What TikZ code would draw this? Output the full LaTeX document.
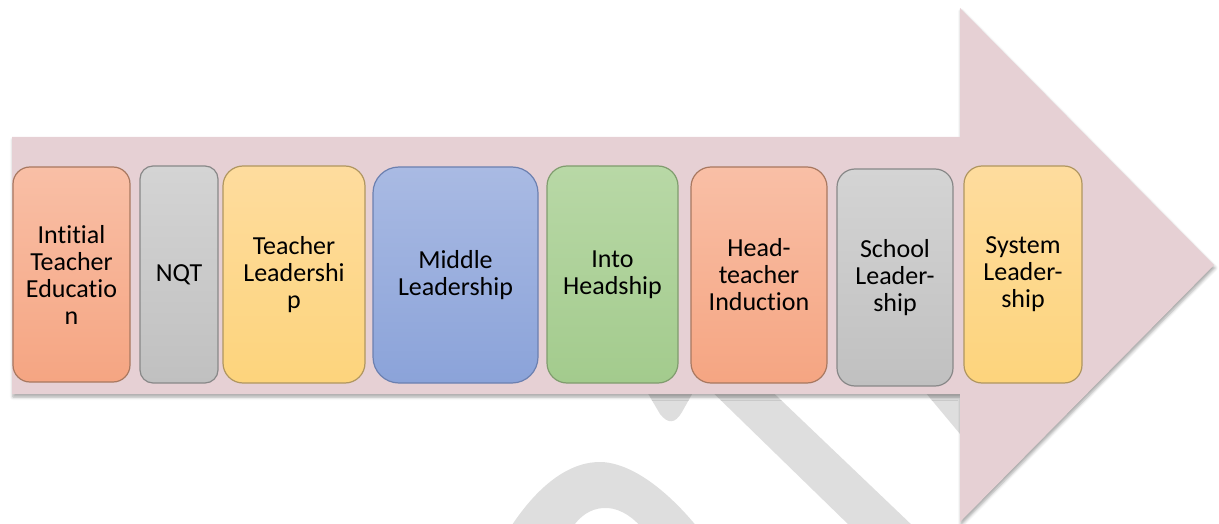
\documentclass[tikz,border=0pt]{standalone}
\usepackage{fontspec}
\setmainfont{Carlito}[Ligatures={NoCommon}]
\usetikzlibrary{shadows.blur}
\definecolor{arrowfill}{HTML}{E6D0D4}
\definecolor{wmgray}{HTML}{DEDEDE}
\definecolor{salT}{HTML}{F9BFA6}\definecolor{salB}{HTML}{F5A582}\definecolor{salD}{HTML}{A87860}
\definecolor{gryT}{HTML}{D4D4D4}\definecolor{gryB}{HTML}{C0C0C0}\definecolor{gryD}{HTML}{888888}
\definecolor{ylwT}{HTML}{FEDC9E}\definecolor{ylwB}{HTML}{FDD47C}\definecolor{ylwD}{HTML}{B09660}
\definecolor{bluT}{HTML}{A9BAE3}\definecolor{bluB}{HTML}{8BA3D9}\definecolor{bluD}{HTML}{6C80B0}
\definecolor{grnT}{HTML}{B8D8A6}\definecolor{grnB}{HTML}{A3CB8D}\definecolor{grnD}{HTML}{809C6E}
\begin{document}
\begin{tikzpicture}[x=1pt,y=-1pt,
  stage/.style={draw, line width=1.2pt, align=center, inner sep=0pt, text=black,
    font=\fontsize{26}{27}\selectfont},
  salbox/.style={top color=salT, bottom color=salB, draw=salD},
  grybox/.style={top color=gryT, bottom color=gryB, draw=gryD},
  ylwbox/.style={top color=ylwT, bottom color=ylwB, draw=ylwD},
  blubox/.style={top color=bluT, bottom color=bluB, draw=bluD},
  grnbox/.style={top color=grnT, bottom color=grnB, draw=grnD},
  wm/.style={fill=wmgray}
]
\useasboundingbox (0,0) rectangle (1219,524);
% watermark fragments (behind the arrow)
\fill[wm] (700,380) -- (760,380) -- (915,528) -- (852,528) -- cycle;
\fill[wm] (640,380) -- (700,380) -- (682,412) .. controls (675,424) and (668,424) .. (660,414) -- cycle;
\fill[wm] (915,380) -- (965,380) -- (965,440) -- cycle;
\fill[wm] (510,528) .. controls (540,482) and (572,461) .. (602,462)
  .. controls (636,464) and (672,496) .. (698,528) -- (642,528)
  .. controls (630,514) and (616,507) .. (603,508)
  .. controls (590,509) and (580,516) .. (572,528) -- cycle;
% big arrow
\fill[arrowfill, blur shadow={shadow xshift=1pt, shadow yshift=-3pt, shadow blur radius=3pt, shadow opacity=35}]
  (12,137) -- (960,137) -- (960,8) -- (1214,265) -- (960,522) -- (960,394) -- (12,394) -- cycle;
% stages
\node[stage, salbox, minimum width=117pt, minimum height=215pt, rounded corners=17pt] (ite) at (71.5,274.5) {Intitial\\Teacher\\Educatio\\n};
\node[stage, grybox, minimum width=78pt, minimum height=217pt, rounded corners=13pt] (nqt) at (179,274.5) {NQT};
\node[stage, ylwbox, minimum width=142pt, minimum height=217pt, rounded corners=20pt] (tl) at (294,274.5) {Teacher\\Leadershi\\p};
\node[stage, blubox, minimum width=165pt, minimum height=216pt, rounded corners=26pt] (ml) at (455.5,275) {Middle\\Leadership};
\node[stage, grnbox, minimum width=131pt, minimum height=217pt, rounded corners=20pt] (ih) at (612.5,274.5) {Into\\Headship};
\node[stage, salbox, minimum width=136pt, minimum height=216pt, rounded corners=20pt] (hi) at (759,275) {Head-\\teacher\\Induction};
\node[stage, grybox, minimum width=116pt, minimum height=217pt, rounded corners=18pt] (sl) at (895,277.5) {School\\Leader-\\ship};
\node[stage, ylwbox, minimum width=118pt, minimum height=217pt, rounded corners=18pt] (syl) at (1023,274.5) {System\\Leader-\\ship};
\end{tikzpicture}
\end{document}
